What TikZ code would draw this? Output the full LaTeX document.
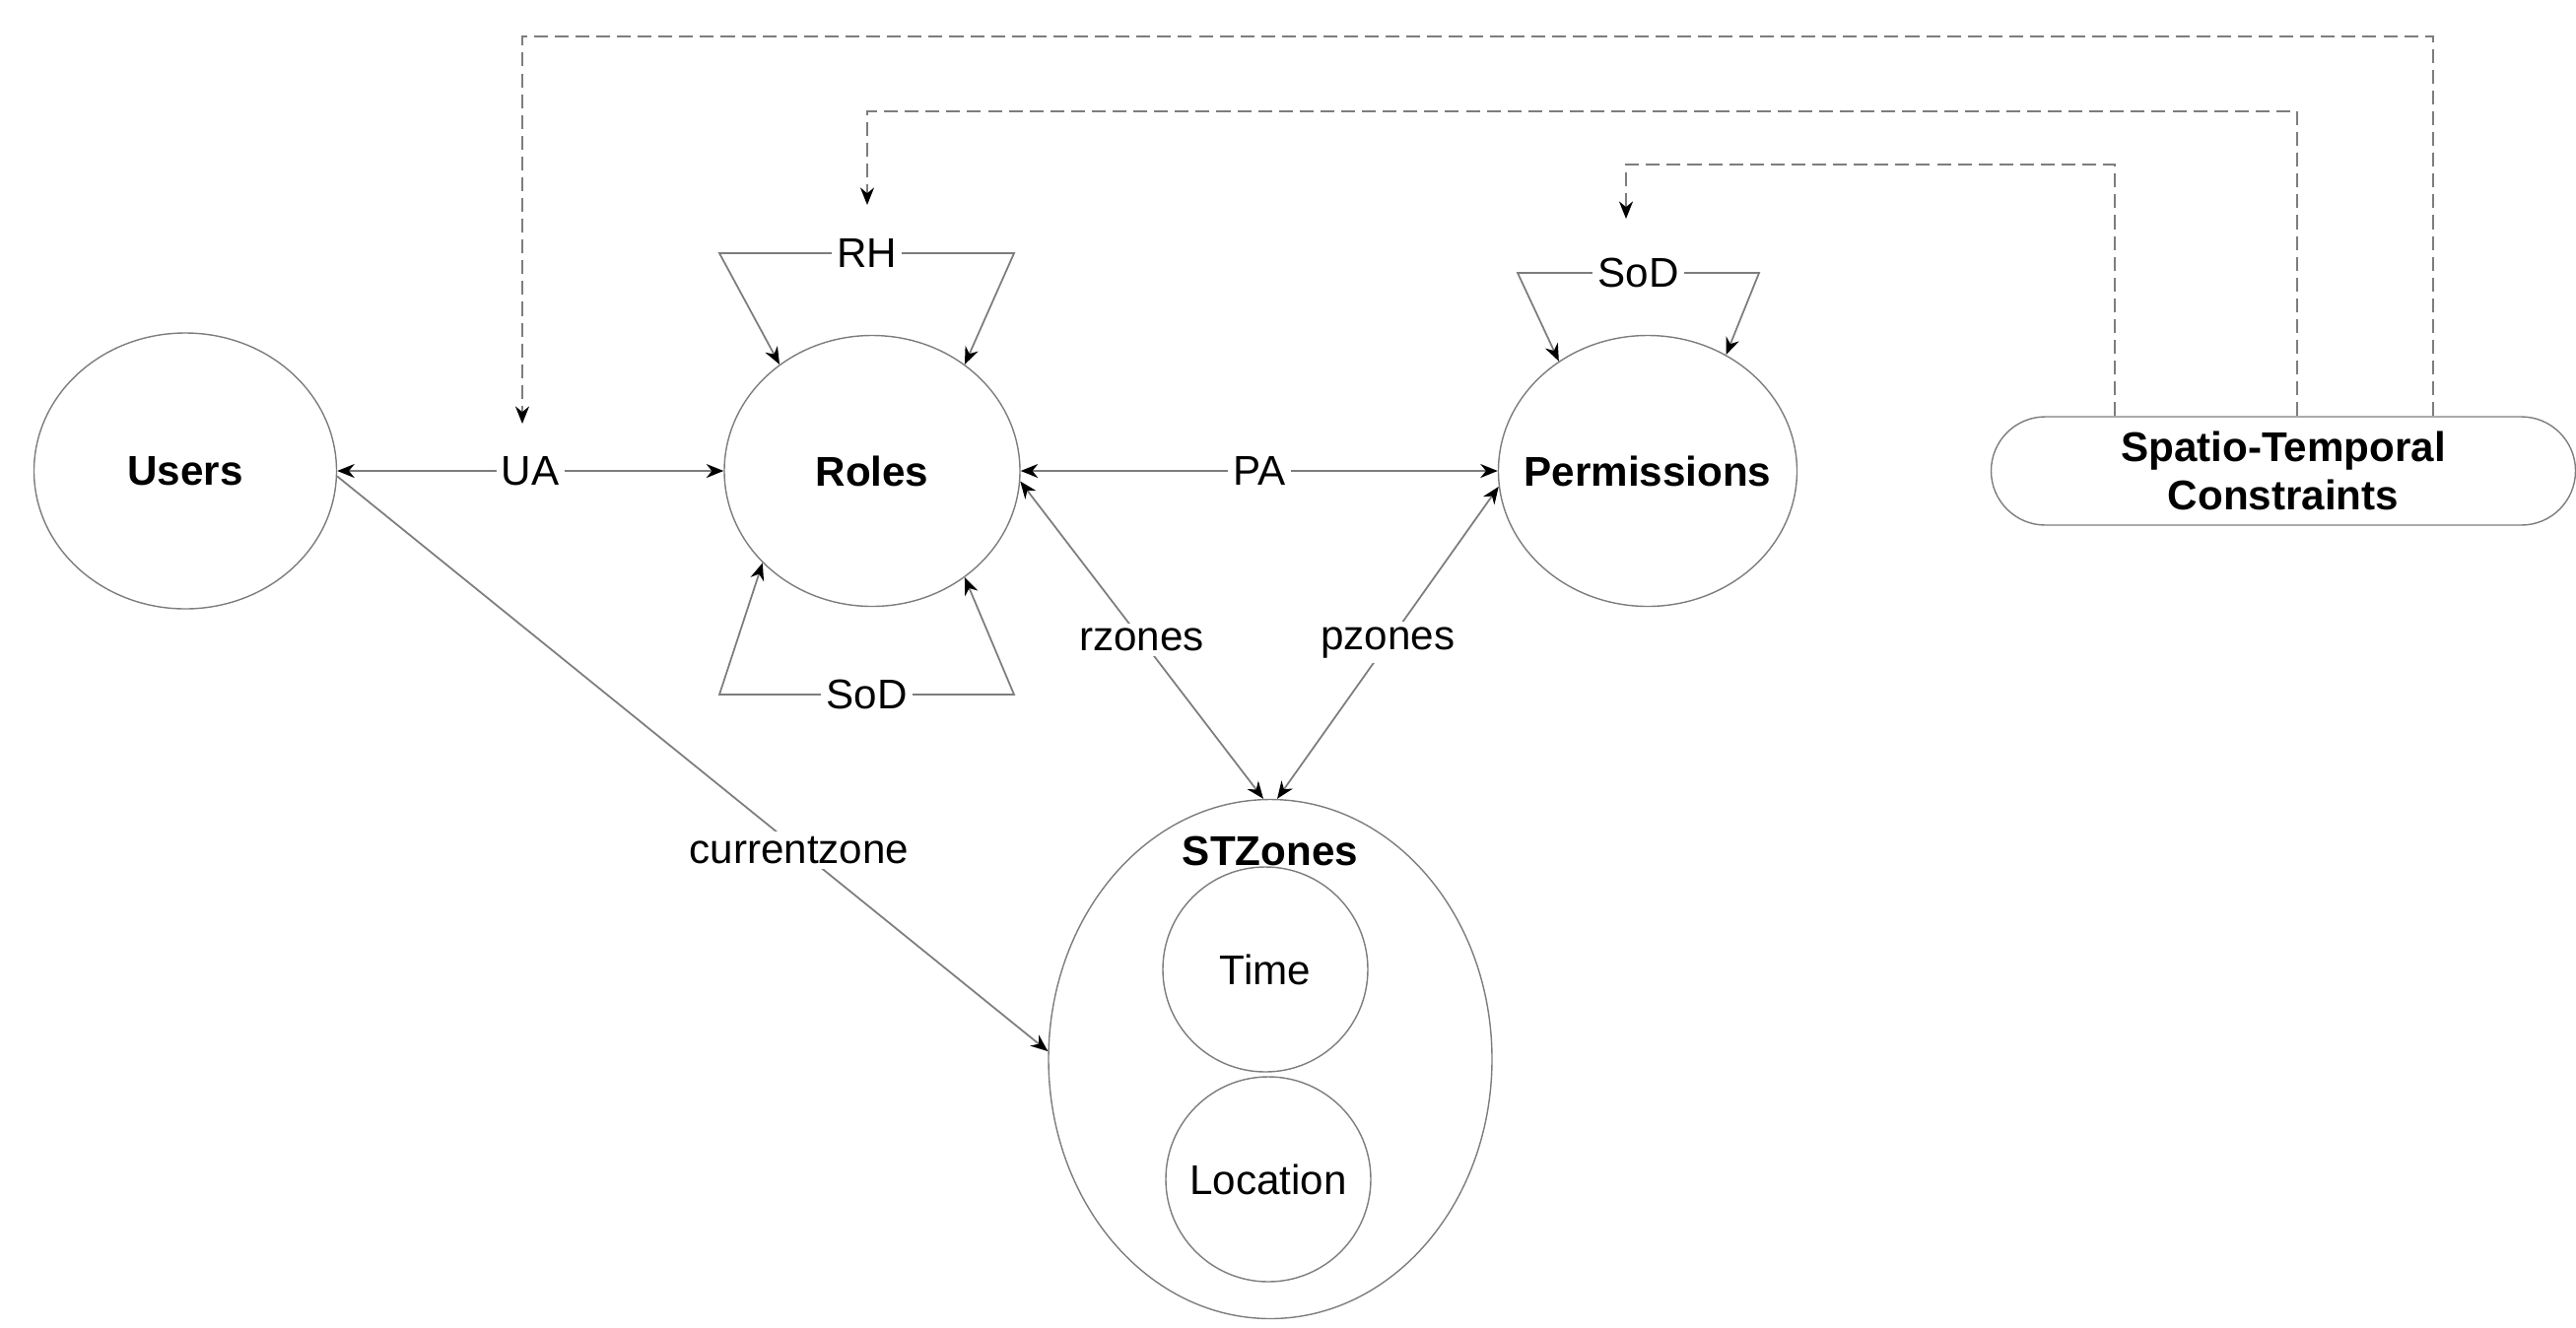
\documentclass[tikz,border=0pt]{standalone}
\usepackage{fontspec}
\setmainfont{Liberation Sans}
\usepackage{tikz}
\usetikzlibrary{arrows.meta,positioning,shapes.geometric}
\definecolor{edgegray}{RGB}{125,125,125}

\begin{document}
\begin{tikzpicture}[>={Stealth[length=5pt,width=4pt,color=black]},
  every node/.style={font=\large,align=center},
  entity/.style={draw=edgegray,ellipse,inner sep=0pt,font=\large\bfseries},
  zone/.style={draw=edgegray,circle,inner sep=0pt,minimum size=2.08cm},
  lbl/.style={fill=white,inner sep=1.5pt},
  link/.style={draw=edgegray,line width=0.5pt},
  dashlink/.style={link,dash pattern=on 4pt off 2pt}]
  \useasboundingbox (0,0) rectangle (26.14,-13.47);
  % main entities
  \node[entity,minimum width=3.07cm,minimum height=2.80cm] (users) at (1.88,-4.78) {Users};
  \node[entity,minimum width=3.00cm,minimum height=2.75cm] (roles) at (8.85,-4.78) {Roles};
  \node[entity,minimum width=3.03cm,minimum height=2.75cm] (perms) at (16.72,-4.78) {\makebox[0pt]{Permissions}};
  \node[draw=edgegray,rounded corners=0.55cm,minimum width=5.93cm,minimum height=1.10cm,
    font=\large\bfseries] (stc) at (23.17,-4.78) {Spatio-Temporal\\Constraints};
  \node[entity,minimum width=4.50cm,minimum height=5.27cm] (stz) at (12.89,-10.75) {};
  \node[font=\large\bfseries] (stzlabel) at (12.89,-8.64) {STZones};
  \node[zone] (time) at (12.84,-9.84) {Time};
  \node[zone] (location) at (12.87,-11.97) {Location};
  % loop corners and arrow targets
  \coordinate (rhL) at (7.30,-2.57);
  \coordinate (rhR) at (10.29,-2.57);
  \coordinate (rsodL) at (7.30,-7.05);
  \coordinate (rsodR) at (10.29,-7.05);
  \coordinate (psodL) at (15.40,-2.77);
  \coordinate (psodR) at (17.85,-2.77);
  \coordinate (uaTip) at (5.30,-4.30);
  \coordinate (rhTip) at (8.80,-2.08);
  \coordinate (psodTip) at (16.50,-2.22);
  % relations
  \draw[link,<->] (users) -- node[lbl]{UA} (roles);
  \draw[link,<->] (roles) -- node[lbl]{PA} (perms);
  \draw[link,<->] (roles.-4) -- node[lbl]{rzones} ([xshift=-2pt]stz.north);
  \draw[link,<->] (perms.186) -- node[lbl]{pzones} ([xshift=2pt]stz.north);
  \draw[link,->] (users.-2) -- node[lbl,pos=0.65]{currentzone} (stz.178);
  \draw[link,<->] (roles.131) -- (rhL) -- node[lbl]{RH} (rhR) -- (roles.49);
  \draw[link,<->] (roles.220) -- (rsodL) -- node[lbl]{SoD} (rsodR) -- (roles.311);
  \draw[link,<->] (perms.129) -- (psodL) -- node[lbl]{SoD} (psodR) -- (perms.56);
  % constraints
  \draw[dashlink,->] ([xshift=1.52cm]stc.north) |- (5.30,-0.37) -- (uaTip);
  \draw[dashlink,->] ([xshift=0.14cm]stc.north) |- (8.80,-1.13) -- (rhTip);
  \draw[dashlink,->] ([xshift=-1.71cm]stc.north) |- (16.50,-1.67) -- (psodTip);
\end{tikzpicture}
\end{document}
